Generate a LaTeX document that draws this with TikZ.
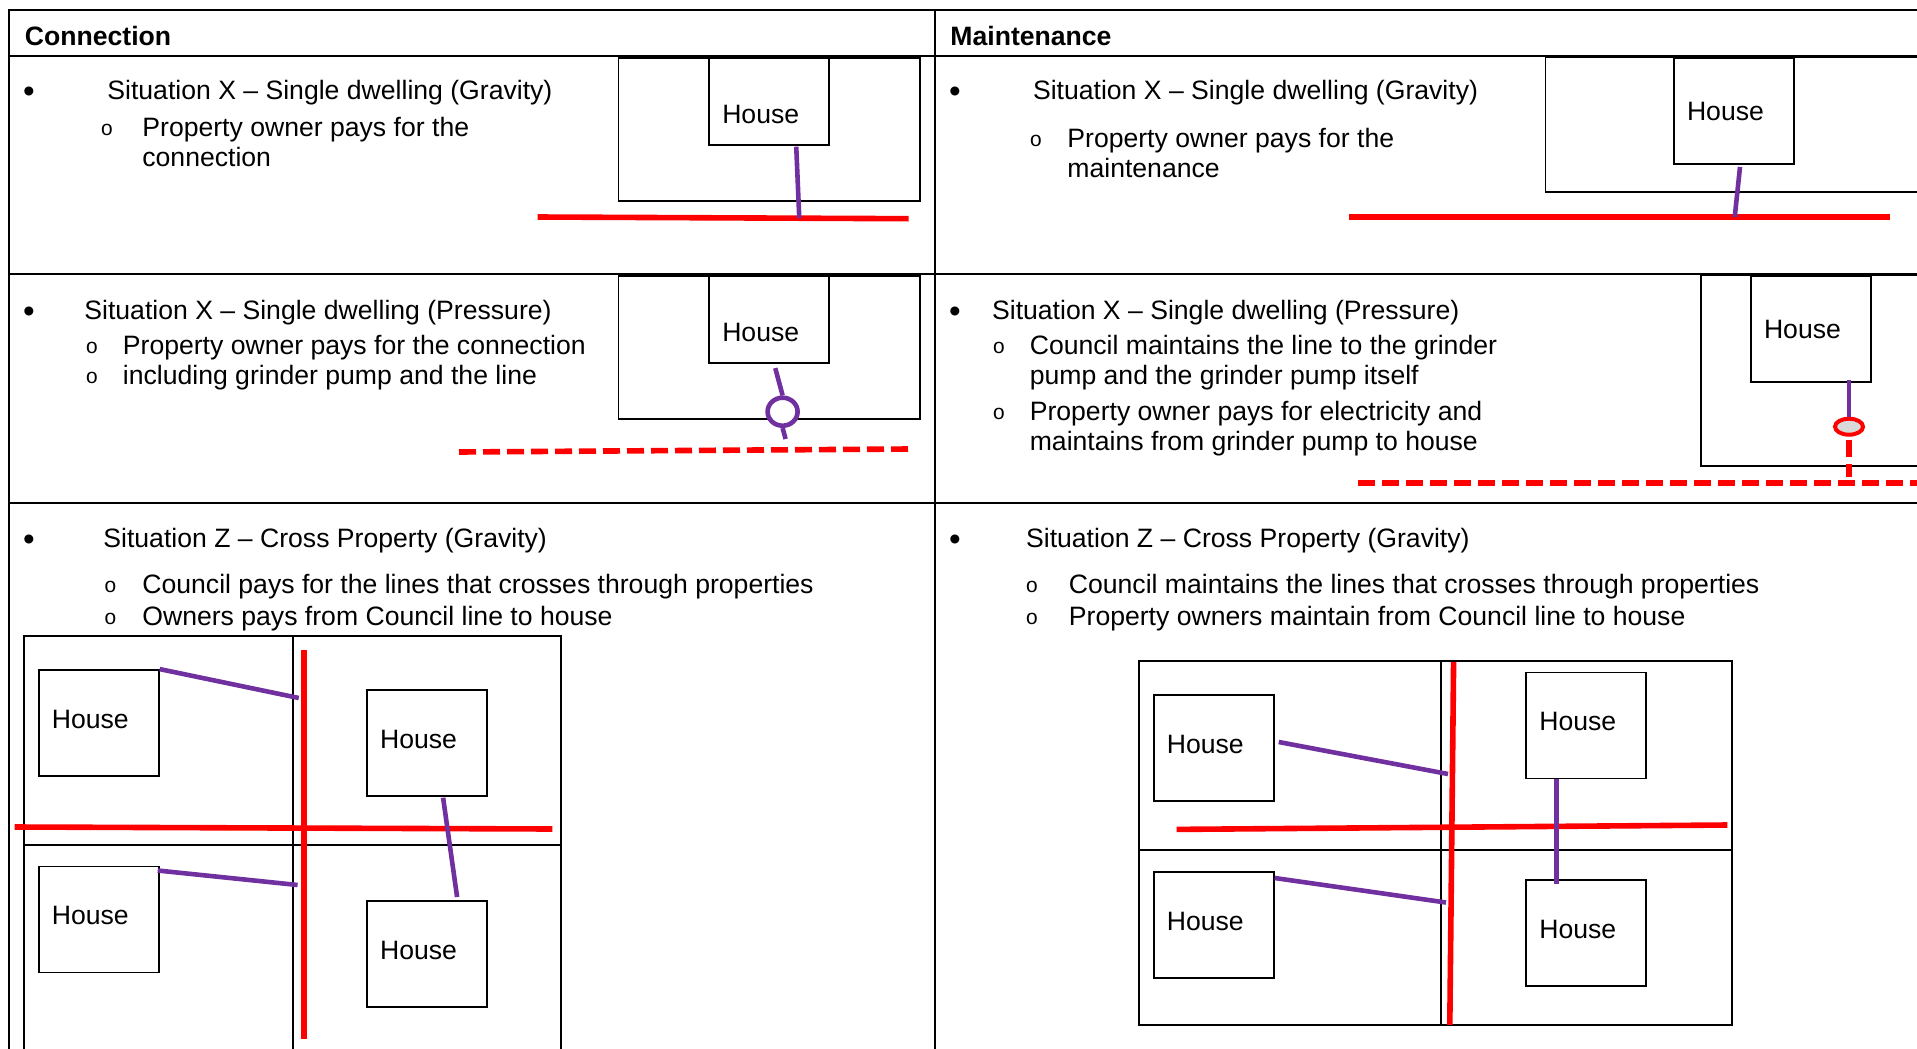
\documentclass[tikz,border=0pt]{standalone}
\usepackage{fontspec}
\setmainfont{Liberation Sans}
\setmonofont{Liberation Mono}
\usepackage{tikz}
\usetikzlibrary{calc,shapes.geometric}
\definecolor{pipered}{RGB}{255,0,0}
\definecolor{linkpurple}{RGB}{112,48,160}
\definecolor{pumpgray}{RGB}{217,217,217}

\begin{document}
\begin{tikzpicture}[x=0.5pt,y=-0.5pt,
    every node/.style={font=\fontsize{13.3}{15}\selectfont},
    txt/.style={anchor=base west, inner sep=0pt, align=left},
    dot/.style={anchor=base, inner sep=0pt, font=\fontsize{16.6}{18}\selectfont},
    sub/.style={anchor=base, inner sep=0pt, font=\fontsize{10.5}{12}\selectfont\ttfamily},
    hdr/.style={anchor=base west, inner sep=0pt, font=\fontsize{13.3}{15}\selectfont\bfseries},
    tabline/.style={black, line width=1pt},
    lot/.style={black, line width=0.9pt},
    house/.style={draw, black, line width=0.9pt, inner xsep=6.5pt, text width=47pt,
        align=left, minimum height=53pt},
    shorthouse/.style={house, minimum height=43.5pt, text height=22pt},
    plothouse/.style={house, text height=5.5pt},
    pipe/.style={pipered, line width=2.8pt},
    pressure/.style={pipe, dash pattern=on 8.5pt off 3.5pt},
    link/.style={linkpurple, line width=2.3pt}]
    \useasboundingbox (0,0) rectangle (1917,1049);

    % Table
    \draw[tabline] (1917,10) -- (9,10) -- (9,1049);
    \draw[tabline] (935,10) -- (935,1049);
    \foreach \y in {55.7,274,502.7}
        \draw[tabline] (9,\y) -- (1917,\y);
    \node[hdr] (conn) at (24.5,45) {Connection};
    \node[hdr] (maint) at (950,45) {Maintenance};

    % Connection - gravity
    \node[dot] (b1) at (29,102.6) {\textbullet};
    \node[txt] (s1) at (107,99) {Situation X – Single dwelling (Gravity)};
    \node[sub] (o1) at (107,135) {o};
    \node[txt] (t1) at (142,166) {Property owner pays for the\\connection};
    \draw[lot] (618.5,57.7) rectangle (919.8,201);
    \node[shorthouse] (hcg) at (769.25,101.3) {House};
    \coordinate (cg1) at (537.7,217);
    \coordinate (cg2) at (908.7,218.7);
    \draw[pipe] (cg1) -- (cg2);
    \draw[link] ($(hcg.south)+(27,1)$) -- ($(cg1)!0.705!(cg2)$);

    % Maintenance - gravity
    \node[dot] (b2) at (955,102.6) {\textbullet};
    \node[txt] (s2) at (1032.6,99) {Situation X – Single dwelling (Gravity)};
    \node[sub] (o2) at (1036,146) {o};
    \node[txt] (t2) at (1067,177) {Property owner pays for the\\maintenance};
    \draw[lot] (1917,57) -- (1545.5,57) -- (1545.5,192) -- (1917,192);
    \node[house] (hmg) at (1734,111) {House};
    \coordinate (mg1) at (1349,217);
    \coordinate (mg2) at (1890,217);
    \draw[pipe] (mg1) -- (mg2);
    \draw[link] ($(hmg.south)+(6,2)$) -- ($(mg1)!0.713!(mg2)$);

    % Connection - pressure
    \node[dot] (b3) at (29,322.6) {\textbullet};
    \node[txt] (s3) at (84,319) {Situation X – Single dwelling (Pressure)};
    \node[sub] (o3) at (92,353) {o};
    \node[txt] (t3) at (122.5,354) {Property owner pays for the connection};
    \node[sub] (o4) at (92,383) {o};
    \node[txt] (t4) at (122.5,384) {including grinder pump and the line};
    \draw[lot] (618.5,275.7) rectangle (920,419);
    \node[shorthouse] (hcp) at (769.25,319.7) {House};
    \node[draw=linkpurple, line width=2.3pt, fill=white, ellipse, inner sep=0pt,
        minimum width=15pt, minimum height=14pt] (pump1) at (782.6,411.7) {};
    \coordinate (cp1) at (459,452);
    \coordinate (cp2) at (909,449);
    \draw[pressure] (cp1) -- (cp2);
    \draw[link] ($(hcp.south)+(6,4)$) -- (pump1.north);
    \draw[link] (pump1.south) -- ++(3,11);

    % Maintenance - pressure
    \node[dot] (b4) at (955,322.6) {\textbullet};
    \node[txt] (s4) at (991.7,319) {Situation X – Single dwelling (Pressure)};
    \node[sub] (o5) at (999,353) {o};
    \node[txt] (t5) at (1029.4,384) {Council maintains the line to the grinder\\pump and the grinder pump itself};
    \node[sub] (o6) at (999,419.7) {o};
    \node[txt] (t6) at (1029.4,450.7) {Property owner pays for electricity and\\maintains from grinder pump to house};
    \draw[lot] (1917,275) -- (1701,275) -- (1701,466) -- (1917,466);
    \node[house] (hmp) at (1811,329) {House};
    \node[draw=pipered, line width=2pt, fill=pumpgray, ellipse, inner sep=0pt,
        minimum width=14pt, minimum height=8pt] (pump2) at (1849,426.7) {};
    \coordinate (mp1) at (1358,483);
    \coordinate (mp2) at (1917,483);
    \draw[pressure] (mp1) -- (mp2);
    \draw[link] (1849,380) -- (pump2.north);
    \draw[pressure] ([yshift=-1.5pt]pump2.south) -- (1849,477);

    % Connection - cross property
    \node[dot] (b5) at (29,550.6) {\textbullet};
    \node[txt] (s5) at (103,547) {Situation Z – Cross Property (Gravity)};
    \node[sub] (o7) at (110.5,592.5) {o};
    \node[txt] (t7) at (142,593.5) {Council pays for the lines that crosses through properties};
    \node[sub] (o8) at (110.5,624.5) {o};
    \node[txt] (t8) at (142,625.5) {Owners pays from Council line to house};
    \draw[lot] (24,1049) -- (24,636) -- (561,636) -- (561,1049);
    \draw[lot] (293,636) -- (293,1049);
    \draw[lot] (24,844.7) -- (561,844.7);
    \node[plothouse] (hcz1) at (98.8,723) {House};
    \node[plothouse] (hcz2) at (427.1,742.8) {House};
    \node[plothouse] (hcz3) at (98.8,919.4) {House};
    \node[plothouse] (hcz4) at (427.1,953.9) {House};
    \coordinate (cz1) at (303.7,650.4);
    \coordinate (cz2) at (303.7,1039);
    \coordinate (cz3) at (14.7,827);
    \coordinate (cz4) at (552.4,829);
    \draw[pipe] (cz1) -- (cz2);
    \draw[pipe] (cz3) -- (cz4);
    \draw[link] (hcz1.north east) -- (298.8,698);
    \draw[link] ($(hcz3.north east)+(-2,5)$) -- (297.6,885);
    \draw[link] ($(hcz2.south)+(16,1)$) -- ($(hcz4.north)+(30,-3)$);

    % Maintenance - cross property
    \node[dot] (b6) at (955,550.6) {\textbullet};
    \node[txt] (s6) at (1025.7,547) {Situation Z – Cross Property (Gravity)};
    \node[sub] (o9) at (1032,592.5) {o};
    \node[txt] (t9) at (1068.5,593.5) {Council maintains the lines that crosses through properties};
    \node[sub] (o10) at (1032,624.5) {o};
    \node[txt] (t10) at (1068.5,625.5) {Property owners maintain from Council line to house};
    \draw[lot] (1139,661) rectangle (1732,1024.8);
    \draw[lot] (1441,661) -- (1441,1024.8);
    \draw[lot] (1139,850) -- (1732,850);
    \node[plothouse] (hmz1) at (1213.8,748) {House};
    \node[plothouse] (hmz2) at (1586.3,725.4) {House};
    \node[plothouse] (hmz3) at (1213.8,924.9) {House};
    \node[plothouse] (hmz4) at (1586.3,932.8) {House};
    \coordinate (mz1) at (1453.6,662);
    \coordinate (mz2) at (1449.8,1024.8);
    \coordinate (mz3) at (1176.7,829.4);
    \coordinate (mz4) at (1727.4,825);
    \draw[pipe] (mz1) -- (mz2);
    \draw[pipe] (mz3) -- (mz4);
    \draw[link] ($(hmz1.east)+(4,-6)$) -- (1448,774);
    \draw[link] ($(hmz3.north east)+(0,7)$) -- (1446,902.5);
    \draw[link] ($(hmz2.south)+(-30,0)$) -- ($(hmz4.north)+(-30,5)$);
\end{tikzpicture}
\end{document}
